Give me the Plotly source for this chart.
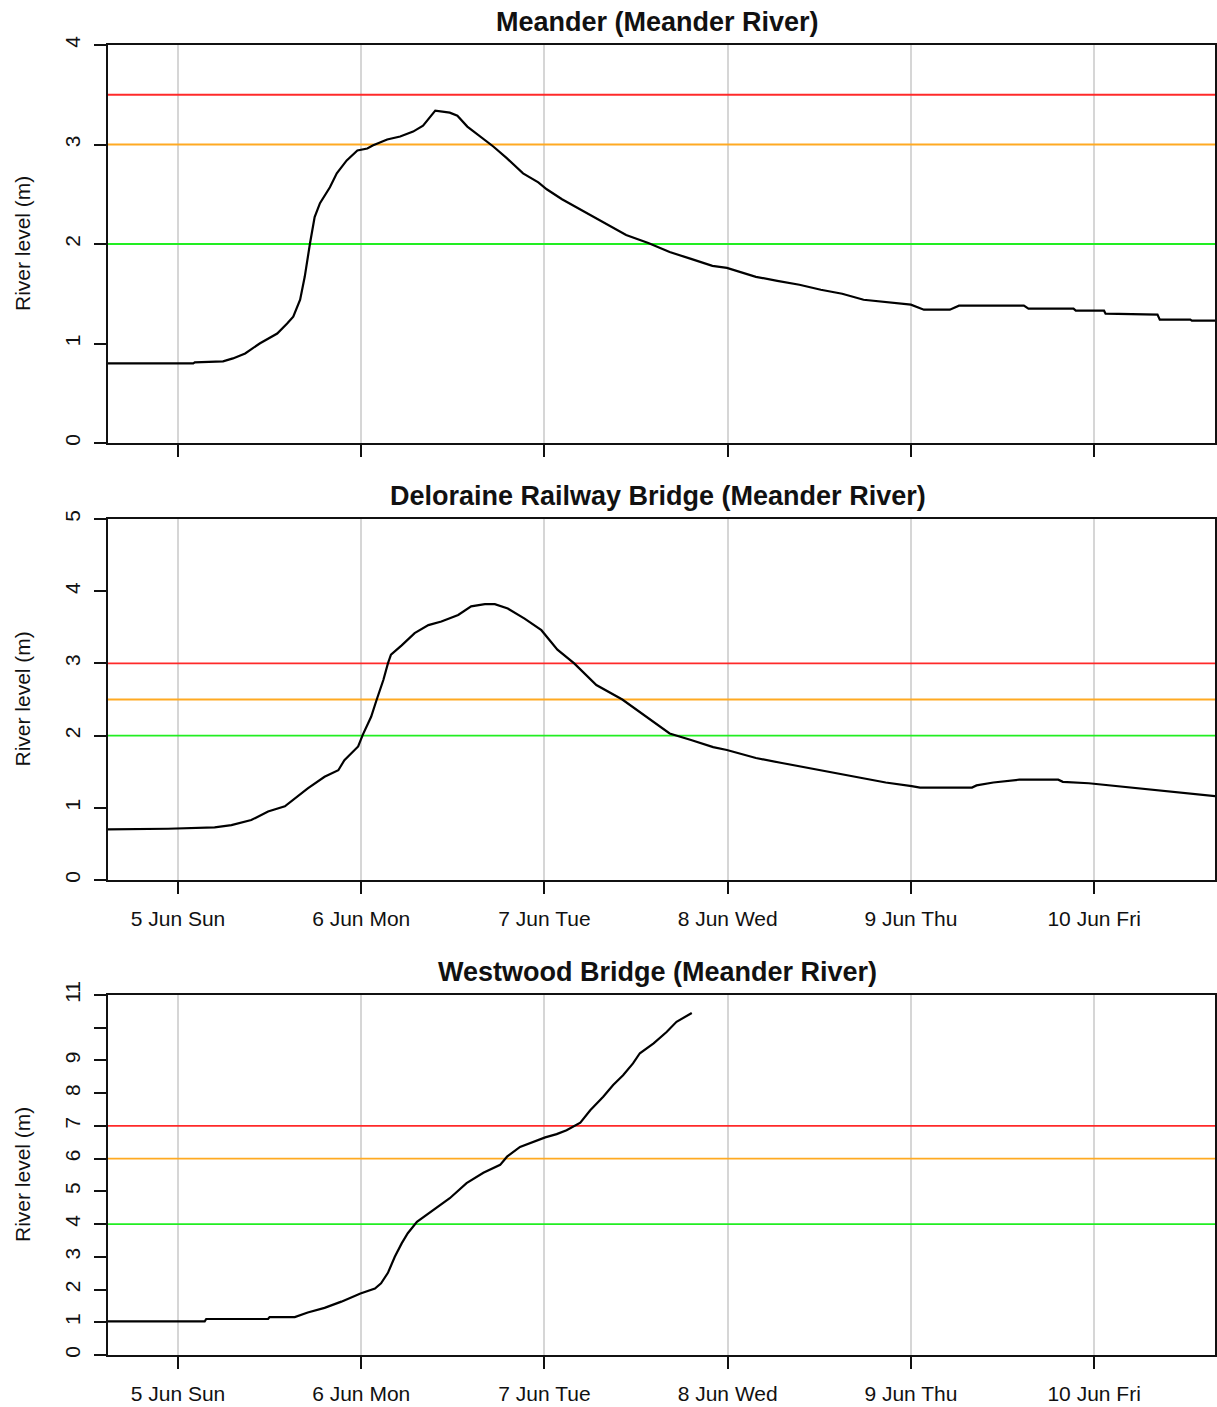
import pandas as pd
import plotly.graph_objects as go

# Gauge readings, hours after 5 Jun 2016 00:00 local time, river level in metres
meander_hours = [-9.17, 2.0, 2.2, 5.9, 7.2, 8.8, 10.7, 13.0, 14.3, 15.1, 16.0, 16.6, 17.3, 17.9,
                 18.6, 19.9, 20.8, 22.1, 23.5, 24.8, 25.5, 27.4, 29.1, 30.8, 32.1, 33.7, 35.6,
                 36.6, 37.9, 39.6, 41.3, 43.1, 45.2, 47.2, 48.3, 50.3, 53.1, 55.9, 58.7, 61.6,
                 64.4, 67.2, 70.0, 71.9, 75.7, 78.5, 81.4, 84.2, 87.0, 89.8, 92.7, 96.0, 97.7,
                 101.1, 102.3, 110.8, 111.4, 117.3, 117.6, 121.3, 121.5, 128.3, 128.6, 132.6,
                 132.8, 135.9]
meander_level = [0.80, 0.80, 0.81, 0.82, 0.85, 0.90, 1.00, 1.10, 1.20, 1.27, 1.44, 1.67, 2.01,
                 2.27, 2.41, 2.57, 2.71, 2.84, 2.94, 2.96, 2.99, 3.05, 3.08, 3.13, 3.19, 3.34,
                 3.32, 3.29, 3.18, 3.08, 2.98, 2.86, 2.71, 2.62, 2.55, 2.45, 2.33, 2.21, 2.09,
                 2.01, 1.92, 1.85, 1.78, 1.76, 1.67, 1.63, 1.59, 1.54, 1.50, 1.44, 1.42, 1.39,
                 1.34, 1.34, 1.38, 1.38, 1.35, 1.35, 1.33, 1.33, 1.30, 1.29, 1.24, 1.24, 1.23,
                 1.23]

deloraine_hours = [-9.17, -1.3, 4.8, 7.0, 9.6, 11.8, 14.0, 15.3, 17.0, 19.2, 21.0, 21.8, 23.6,
                   24.2, 25.3, 26.0, 26.9, 27.5, 27.9, 29.3, 31.0, 32.8, 34.5, 36.7, 38.4, 40.2,
                   41.5, 43.2, 45.4, 47.6, 49.7, 51.9, 54.8, 58.2, 61.0, 64.4, 67.2, 70.1, 71.9,
                   75.7, 79.1, 82.5, 85.9, 89.3, 92.7, 96.1, 97.2, 104.0, 104.6, 106.8, 110.2,
                   115.3, 115.9, 119.3, 122.1, 124.9, 127.7, 130.6, 133.4, 135.9]
deloraine_level = [0.70, 0.71, 0.73, 0.76, 0.83, 0.95, 1.02, 1.13, 1.27, 1.43, 1.52, 1.66, 1.85,
                   2.01, 2.26, 2.49, 2.77, 3.00, 3.12, 3.25, 3.42, 3.53, 3.58, 3.67, 3.79, 3.82,
                   3.82, 3.76, 3.62, 3.46, 3.19, 3.00, 2.70, 2.50, 2.29, 2.03, 1.94, 1.84, 1.80,
                   1.69, 1.62, 1.55, 1.49, 1.42, 1.35, 1.30, 1.28, 1.28, 1.31, 1.35, 1.39, 1.39,
                   1.36, 1.34, 1.31, 1.28, 1.25, 1.22, 1.19, 1.16]

westwood_hours = [-9.17, 3.5, 3.7, 11.8, 12.0, 15.3, 17.0, 19.2, 21.4, 23.9, 25.8, 26.6, 27.5,
                  28.4, 29.3, 30.1, 31.3, 33.4, 35.6, 37.8, 40.0, 42.2, 43.1, 44.8, 46.5, 48.1,
                  49.6, 50.9, 52.7, 54.0, 55.7, 57.0, 58.3, 59.6, 60.5, 62.3, 64.0, 65.3, 67.3]
westwood_level = [1.03, 1.03, 1.10, 1.10, 1.16, 1.16, 1.30, 1.44, 1.63, 1.88, 2.03, 2.19, 2.51,
                  3.00, 3.41, 3.72, 4.07, 4.43, 4.79, 5.25, 5.57, 5.81, 6.06, 6.36, 6.52, 6.65,
                  6.75, 6.87, 7.10, 7.48, 7.89, 8.25, 8.55, 8.91, 9.22, 9.52, 9.87, 10.18, 10.45]

# Flood warning thresholds: minor (green), moderate (orange), major (red)
meander_thresholds = [2.0, 3.0, 3.5]
deloraine_thresholds = [2.0, 2.5, 3.0]
westwood_thresholds = [4.0, 6.0, 7.0]
threshold_colors = ["#22ee22", "#ffaa22", "#ff2a2a"]

station_titles = ["Meander (Meander River)",
                  "Deloraine Railway Bridge (Meander River)",
                  "Westwood Bridge (Meander River)"]

day_dates = ["2016-06-05", "2016-06-06", "2016-06-07", "2016-06-08", "2016-06-09", "2016-06-10"]
day_labels = ["5 Jun Sun", "6 Jun Mon", "7 Jun Tue", "8 Jun Wed", "9 Jun Thu", "10 Jun Fri"]

meander_yticks = [0, 1, 2, 3, 4]
deloraine_yticks = [0, 1, 2, 3, 4, 5]
westwood_yticks = [0, 1, 2, 3, 4, 5, 6, 7, 8, 9, 10, 11]
westwood_yticktext = ["0", "1", "2", "3", "4", "5", "6", "7", "8", "9", "", "11"]

X_START = "2016-06-04 14:50"
X_END = "2016-06-10 15:50"

BASE = pd.Timestamp("2016-06-05 00:00")


def to_times(hours):
    return [(BASE + pd.Timedelta(hours=h)).round("min").strftime("%Y-%m-%d %H:%M") for h in hours]


W, H = 1217, 1407
FONT = "Liberation Sans, Arial, sans-serif"
TXT = "#111111"

# plot boxes in pixels: (top, bottom)
panel_px = [(45, 443), (519, 880), (995, 1355)]
x_px = (108, 1215)

panels = [
    dict(title=station_titles[0], hours=meander_hours, level=meander_level,
         thresholds=meander_thresholds, ymax=4, yticks=meander_yticks,
         yticktext=[str(v) for v in meander_yticks], xlabels=False),
    dict(title=station_titles[1], hours=deloraine_hours, level=deloraine_level,
         thresholds=deloraine_thresholds, ymax=5, yticks=deloraine_yticks,
         yticktext=[str(v) for v in deloraine_yticks], xlabels=True),
    dict(title=station_titles[2], hours=westwood_hours, level=westwood_level,
         thresholds=westwood_thresholds, ymax=11, yticks=westwood_yticks,
         yticktext=westwood_yticktext, xlabels=True),
]

fig = go.Figure()
layout = dict(
    width=W, height=H,
    margin=dict(l=0, r=0, t=0, b=0, autoexpand=False),
    paper_bgcolor="white", plot_bgcolor="white",
    showlegend=False,
    font=dict(family=FONT, color=TXT, size=21),
)
annotations = []

xdom = [x_px[0] / W, x_px[1] / W]
for i, p in enumerate(panels):
    n = "" if i == 0 else str(i + 1)
    top, bottom = panel_px[i]
    ydom = [1 - bottom / H, 1 - top / H]

    layout["xaxis" + n] = dict(
        domain=xdom, anchor="y" + n, type="date", automargin=False,
        range=[X_START, X_END],
        tickvals=day_dates, ticktext=day_labels, showticklabels=p["xlabels"],
        tickfont=dict(size=21, color=TXT), ticklabelstandoff=7,
        showgrid=True, gridcolor="#d6d6d6", gridwidth=1.5,
        showline=True, linecolor="#111111", linewidth=1.6, mirror=True,
        ticks="outside", ticklen=12, tickwidth=1.6, tickcolor="#111111",
        zeroline=False,
    )
    layout["yaxis" + n] = dict(
        domain=ydom, anchor="x" + n, automargin=False,
        range=[0, p["ymax"]],
        tickvals=p["yticks"], ticktext=p["yticktext"], tickangle=-90,
        tickfont=dict(size=21, color=TXT), ticklabelstandoff=6,
        showgrid=False,
        showline=True, linecolor="#111111", linewidth=1.6, mirror=True,
        ticks="outside", ticklen=12, tickwidth=1.6, tickcolor="#111111",
        zeroline=False,
    )

    # threshold lines sit under the level trace
    for lvl, col in zip(p["thresholds"], threshold_colors):
        fig.add_trace(go.Scatter(
            x=[X_START, X_END], y=[lvl, lvl], mode="lines",
            line=dict(color=col, width=1.8),
            xaxis="x" + n, yaxis="y" + n, hoverinfo="skip",
        ))

    fig.add_trace(go.Scatter(
        x=to_times(p["hours"]), y=p["level"], mode="lines",
        line=dict(color="black", width=2.2),
        xaxis="x" + n, yaxis="y" + n, hoverinfo="skip",
    ))

    annotations.append(dict(
        text="<b>" + p["title"] + "</b>", xref="paper", yref="paper",
        x=(x_px[0] + x_px[1]) / 2 / W - 4 / W, y=1 - (top - 23) / H,
        xanchor="center", yanchor="middle", showarrow=False,
        font=dict(size=27, color=TXT, family=FONT),
    ))
    annotations.append(dict(
        text="River level (m)", xref="paper", yref="paper",
        x=22 / W, y=1 - (top + bottom) / 2 / H, textangle=-90,
        xanchor="center", yanchor="middle", showarrow=False,
        font=dict(size=21, color=TXT, family=FONT),
    ))

layout["annotations"] = annotations
fig.update_layout(**layout)

fig.write_html("out.html")
